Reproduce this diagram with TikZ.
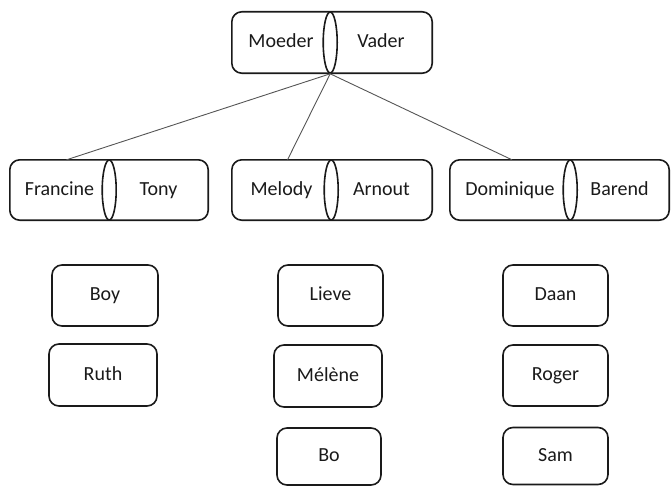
\documentclass[tikz,border=0pt]{standalone}
\usepackage{fontspec}
\setmainfont{Carlito}
\usetikzlibrary{shapes.geometric}
\definecolor{ink}{HTML}{1A1A1A}
\definecolor{wire}{HTML}{555555}
\tikzset{
  x=1pt, y=-1pt,
  half/.style={rectangle, inner sep=0pt, minimum height=#1, font=\fontsize{20}{22}\selectfont, text=ink, text height=13pt, text depth=3pt},
  half/.default=61pt,
  outerbox/.style={draw=ink, line width=1.6pt, rounded corners=10pt},
  ring/.style={ellipse, draw=ink, fill=white, line width=1.6pt, minimum width=14pt, inner sep=0pt},
  kid/.style={rectangle, draw=ink, line width=1.6pt, rounded corners=10pt, minimum width=106pt, minimum height=61pt, inner sep=0pt, font=\fontsize{20}{22}\selectfont, text=ink, text height=13pt, text depth=3pt},
  wireline/.style={draw=wire, line width=0.9pt}
}
\begin{document}
\begin{tikzpicture}
\useasboundingbox (0,0) rectangle (671,487);
% top couple
\node[half, minimum width=98pt] (moeder) at (281,42.5) {Moeder};
\node[half, minimum width=102pt] (vader) at (381,42.5) {Vader};
\draw[outerbox] (moeder.north west) rectangle (vader.south east);
\node[ring, minimum height=61pt] (mvring) at (moeder.east) {};
% second row couples
\node[half=60pt, minimum width=99pt] (francine) at (59.5,190) {Francine};
\node[half=60pt, minimum width=99pt] (tony) at (158.5,190) {Tony};
\draw[outerbox] (francine.north west) rectangle (tony.south east);
\node[ring, minimum height=60pt] (ftring) at (francine.east) {};

\node[half=60pt, minimum width=99pt] (melody) at (281.5,190) {Melody};
\node[half=60pt, minimum width=101pt] (arnout) at (381.5,190) {Arnout};
\draw[outerbox] (melody.north west) rectangle (arnout.south east);
\node[ring, minimum height=60pt] (maring) at (melody.east) {};

\node[half=60pt, minimum width=120pt] (dominique) at (510,190) {Dominique};
\node[half=60pt, minimum width=99pt] (barend) at (619.5,190) {Barend};
\draw[outerbox] (dominique.north west) rectangle (barend.south east);
\node[ring, minimum height=60pt] (dbring) at (dominique.east) {};

% connectors
\draw[wireline] (mvring.south) -- ([xshift=7pt]francine.north);
\draw[wireline] (mvring.south) -- ([xshift=6pt]melody.north);
\draw[wireline] (mvring.south) -- ([xshift=2pt]dominique.north);

% children
\node[kid] (boy) at (105,295.5) {Boy};
\node[kid, minimum width=108pt, minimum height=62pt] (ruth) at (103,375) {Ruth};
\node[kid, minimum width=105pt] (lieve) at (330.5,295.5) {Lieve};
\node[kid, minimum width=108pt, minimum height=62pt] (melene) at (328,376) {Mélène};
\node[kid, minimum width=104pt, minimum height=57pt] (bo) at (329,456.5) {Bo};
\node[kid, minimum width=105pt] (daan) at (555.5,295.5) {Daan};
\node[kid, minimum width=105pt] (roger) at (555.5,375.5) {Roger};
\node[kid, minimum width=105pt, minimum height=57pt] (sam) at (555.5,456) {Sam};
\end{tikzpicture}
\end{document}
